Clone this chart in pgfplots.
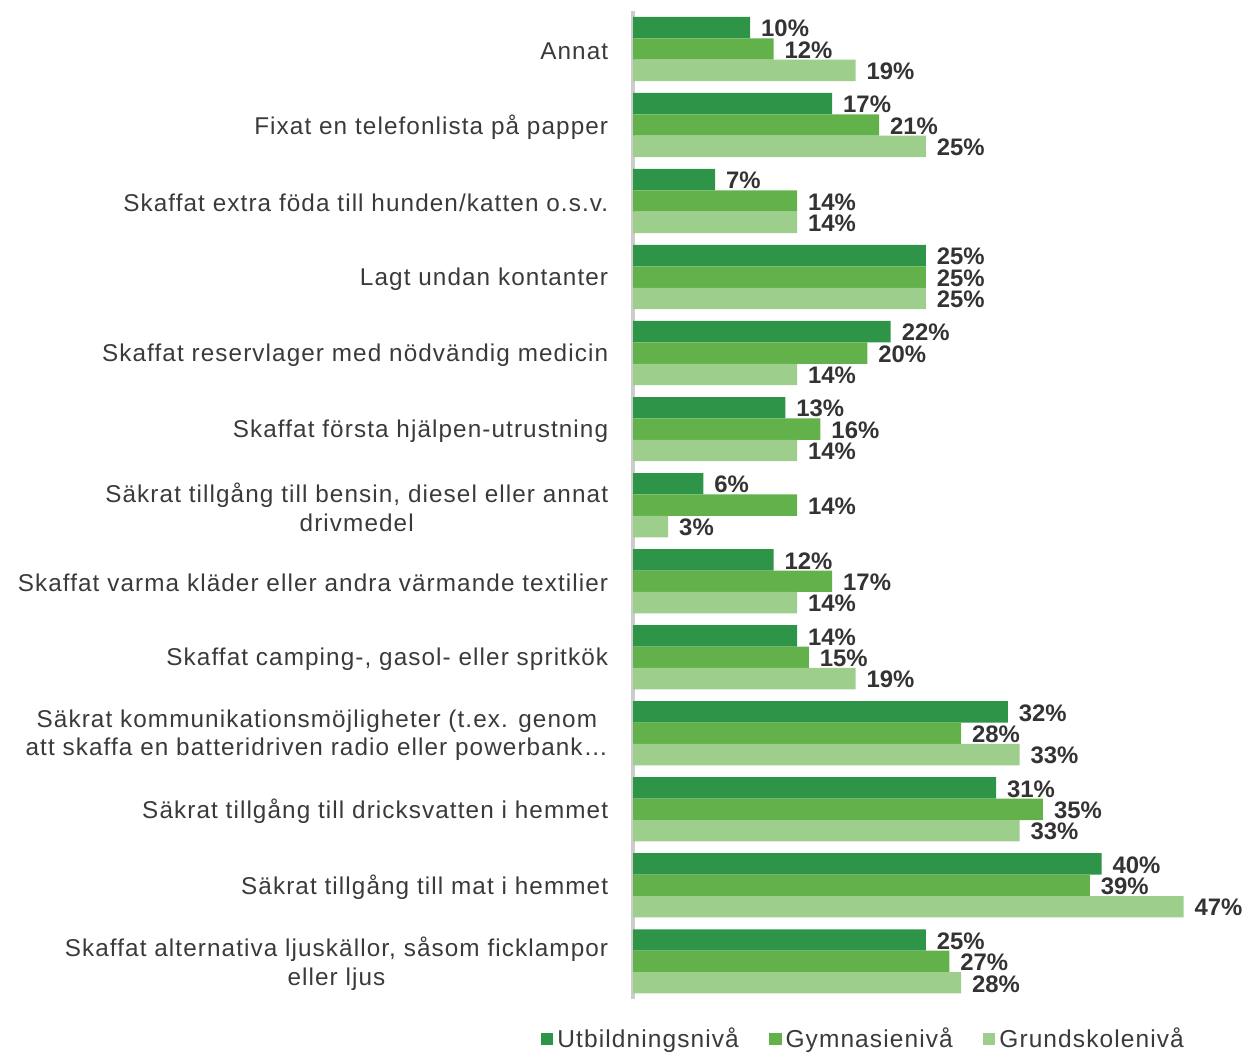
\documentclass[border=0pt]{standalone}
\usepackage{fontspec}
\setmainfont{Liberation Sans}
\newfontfamily\catfont[LetterSpace=4.5]{Liberation Sans}
\usepackage{pgfplots}
\pgfplotsset{compat=1.18}

\definecolor{cDark}{HTML}{2E9448}
\definecolor{cMid}{HTML}{62B14A}
\definecolor{cLight}{HTML}{9DCE8C}
\definecolor{txt}{HTML}{3A3A3A}
\definecolor{lab}{HTML}{333333}

% y = 12 is the top category (Annat), y = 0 the bottom one
\pgfplotstableread{
y  utb gym grund
12 10 12 19
11 17 21 25
10  7 14 14
9  25 25 25
8  22 20 14
7  13 16 14
6   6 14  3
5  12 17 14
4  14 15 19
3  32 28 33
2  31 35 33
1  40 39 47
0  25 27 28
}\data

\begin{document}
\begin{tikzpicture}
\begin{axis}[
    name=ax,
    xbar,
    scale only axis,
    width=276.5pt, height=496.5pt,
    xmin=0, xmax=47,
    ymin=-0.5, ymax=12.5,
    bar width=10.75pt,
    clip=false,
    axis x line=none,
    axis y line*=left,
    y axis line style={draw=black!20, line width=2pt, -},
    major tick length=0pt,
    /pgf/number format/assume math mode=true,
    ytick={0,1,2,3,4,5,6,7,8,9,10,11,12},
    yticklabels={
      {Skaffat alternativa ljuskällor, såsom ficklampor\\eller ljus},
      {Säkrat tillgång till mat i hemmet},
      {Säkrat tillgång till dricksvatten i hemmet},
      {Säkrat kommunikationsmöjligheter (t.ex. genom\\att skaffa en batteridriven radio eller powerbank\ldots},
      {Skaffat camping-, gasol- eller spritkök},
      {Skaffat varma kläder eller andra värmande textilier},
      {Säkrat tillgång till bensin, diesel eller annat\\drivmedel},
      {Skaffat första hjälpen-utrustning},
      {Skaffat reservlager med nödvändig medicin},
      {Lagt undan kontanter},
      {Skaffat extra föda till hunden/katten o.s.v.},
      {Fixat en telefonlista på papper},
      {Annat}},
    yticklabel style={align=center, font=\catfont\fontsize{12.2}{14.5}\selectfont, text=txt, xshift=-9pt, yshift=-1pt},
    nodes near coords={\pgfmathprintnumber{\pgfplotspointmeta}\%},
    nodes near coords style={font=\fontsize{12}{12}\selectfont\bfseries, text=lab, anchor=west, xshift=2pt, yshift=-0.5pt},
    legend columns=3,
    legend style={draw=none, at={(0.42,-0.02)}, anchor=north,
      font=\catfont\fontsize{12.3}{14}\selectfont, text=txt,
      /tikz/every even column/.append style={column sep=13pt}},
    legend image code/.code={\fill[#1] (0pt,-3.2pt) rectangle (6.4pt,3.2pt);},
]
\addplot[fill=cDark, draw=none, bar shift=10.75pt] table[x=utb, y=y] {\data};
\addplot[fill=cMid, draw=none, bar shift=0pt] table[x=gym, y=y] {\data};
\addplot[fill=cLight, draw=none, bar shift=-10.75pt] table[x=grund, y=y] {\data};
\legend{Utbildningsnivå, Gymnasienivå, Grundskolenivå}
\coordinate (O) at (rel axis cs:0,0);
\coordinate (T) at (rel axis cs:0,1);
\end{axis}
\path ([xshift=-318pt,yshift=-25.5pt]O) rectangle ([xshift=306.5pt,yshift=5.5pt]T);
\end{tikzpicture}
\end{document}
